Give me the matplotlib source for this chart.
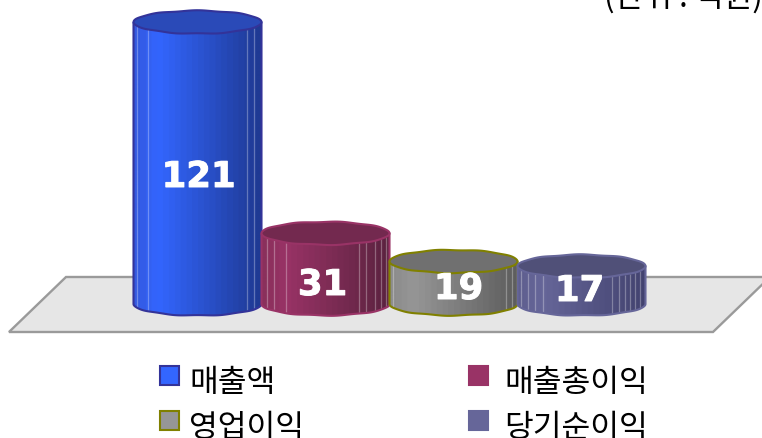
import numpy as np
import matplotlib
matplotlib.use('Agg')
import matplotlib.pyplot as plt
import matplotlib.patheffects as pe
from matplotlib.patches import Polygon, Rectangle, PathPatch
from matplotlib.path import Path
from matplotlib.colors import LinearSegmentedColormap

plt.rcParams['font.family'] = ['Noto Sans CJK KR', 'DejaVu Sans']

# dados do grafico
categorias = ['매출액', '매출총이익', '영업이익', '당기순이익']
valores = [121, 31, 19, 17]
unidade = '(단위 : 억원)'

# cores: esquerda, brilho, direita, topo, borda
cores_corpo = [['#3459E0', '#3366FF', '#1F3A94'],
               ['#8A305C', '#993366', '#5C2340'],
               ['#8C8C8C', '#969696', '#5E5E5E'],
               ['#5F5F8F', '#666699', '#434370']]
cores_topo = ['#2A4AB8', '#73294F', '#707070', '#505078']
cores_borda = ['#333399', '#993366', '#808000', '#666699']
cores_legenda = ['#3366FF', '#993366', '#969696', '#666699']

# linhas claras verticais (fracao da largura)
facetas = [[0.03, 0.11, 0.89, 0.94],
           [0.04, 0.10, 0.19, 0.76, 0.82, 0.89, 0.93, 0.97],
           [0.03, 0.91, 0.96],
           [0.03, 0.08, 0.14, 0.20, 0.74, 0.79, 0.84, 0.88, 0.92, 0.96]]

W, H = 762, 439
PX_X0, PX_DX = 197.5, 128.0   # categoria 0 e largura em pixels
PX_Y0, PX_DY = 307.0, 2.346   # valor 0 e pixels por unidade

fig = plt.figure(figsize=(W / 100, H / 100), dpi=100)
ax = fig.add_axes([0, 0, 1, 1])
xlim = ((0 - PX_X0) / PX_DX, (W - PX_X0) / PX_DX)
ylim = ((PX_Y0 - H) / PX_DY, PX_Y0 / PX_DY)
ax.axis('off')


# converte pixel da imagem para fracao da figura
def fx(px):
    return px / W


def fy(py):
    return 1 - py / H


# piso
piso = Polygon([(fx(9), fy(333)), (fx(66), fy(278)), (fx(770), fy(278)), (fx(713), fy(333))],
               closed=True, facecolor='#E6E6E6', edgecolor='#9A9A9A', linewidth=1.7,
               transform=fig.transFigure, zorder=1)
ax.add_patch(piso)

rx = 0.5
ry = 11.5 / PX_DY
base = (PX_Y0 - 305) / PX_DY


# elipse com borda levemente ondulada
def elipse(cx, cy, t):
    onda = 1 + 0.035 * np.sin(9 * t + cx * 2)
    return cx + rx * np.cos(t), cy + ry * onda * np.sin(t)


for i, v in enumerate(valores):
    z = 2 + i
    # corpo do cilindro
    t = np.linspace(np.pi, 2 * np.pi, 80)
    bx, by = elipse(i, base, t)
    vx = np.concatenate([[i - rx], bx, [i + rx], [i - rx]])
    vy = np.concatenate([[v], by, [v], [v]])
    corpo = PathPatch(Path(np.column_stack([vx, vy])), facecolor='none',
                      edgecolor=cores_borda[i], linewidth=1.5, zorder=z + 0.3, joinstyle='round')
    ax.add_patch(corpo)
    cm = LinearSegmentedColormap.from_list('c', [(0, cores_corpo[i][0]), (0.17, cores_corpo[i][1]),
                                                 (1, cores_corpo[i][2])], N=22)
    img = ax.imshow(np.linspace(0, 1, 256)[None, :], cmap=cm, aspect='auto',
                    extent=(i - rx, i + rx, base - ry * 1.1, v), zorder=z)
    img.set_clip_path(PathPatch(Path(np.column_stack([vx, vy])), transform=ax.transData))

    # linhas das facetas
    for f in facetas[i]:
        lx = i - rx + f * 2 * rx
        s = (lx - i) / rx
        meia = ry * np.sqrt(max(1 - s * s, 0))
        ax.plot([lx, lx], [base - meia, v - meia], color='white', alpha=0.3, linewidth=0.9,
                zorder=z + 0.1, solid_capstyle='butt')

    # topo
    t = np.linspace(0, 2 * np.pi, 160)
    tx, ty = elipse(i, v, t)
    ax.fill(tx, ty, facecolor=cores_topo[i], edgecolor=cores_borda[i], linewidth=1.5, zorder=z + 0.4)

# rotulos de valor (deslocamento em pixels)
rotulo_dx = [1, -3, 5, -2]
rotulo_py = [178, 286, 290, 292]
for i, v in enumerate(valores):
    tx = ax.text(i + rotulo_dx[i] / PX_DX, (PX_Y0 - rotulo_py[i]) / PX_DY, str(v), color='white',
                 fontsize=25.5, fontweight='bold', family='DejaVu Sans', ha='center', va='center', zorder=10)
    tx.set_path_effects([pe.withStroke(linewidth=0.7, foreground='white')])

ax.set_xlim(xlim)
ax.set_ylim(ylim)

# legenda
leg_x = [160, 469, 160, 469]
leg_y = [367, 367, 412, 412]
txt_x = [189, 504, 189, 504]
txt_y = [383, 383, 428, 428]
for i, nome in enumerate(categorias):
    ax.add_patch(Rectangle((fx(leg_x[i]), fy(leg_y[i] + 19)), 19 / W, 19 / H, transform=fig.transFigure,
                           facecolor=cores_legenda[i], edgecolor=cores_borda[i], linewidth=1.5, zorder=10))
    fig.text(fx(txt_x[i]), fy(txt_y[i]), nome, fontsize=22.5, color='black', ha='left', va='center')

# unidade, cortada no topo como no original
fig.text(fx(604), fy(7), unidade, fontsize=22.5, color='black', ha='left', va='baseline')

fig.savefig('out.png', dpi=100)
